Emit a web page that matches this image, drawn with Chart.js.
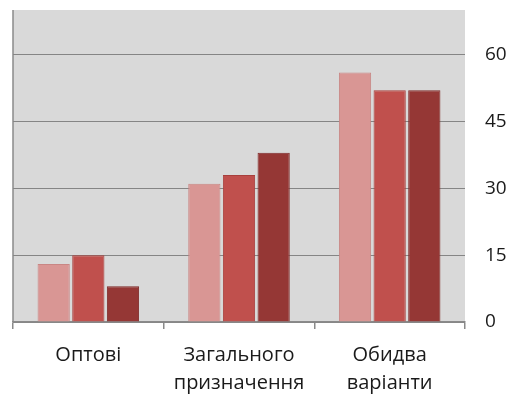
<!DOCTYPE html>
<html>
<head>
<meta charset="utf-8">
<script src="https://cdn.jsdelivr.net/npm/chart.js@4"></script>
<style>
  html, body { margin: 0; padding: 0; background: #ffffff; }
  #wrap { width: 509px; height: 394px; }
</style>
</head>
<body>
<div id="wrap"><canvas id="chart"></canvas></div>
<script>
// Categories (two-line labels) and the three series per category.
var categories = [['Оптові'], ['Загального', 'призначення'], ['Обидва', 'варіанти']];
var series_a = [13, 31, 56];
var series_b = [15, 33, 52];
var series_c = [8, 38, 52];
var y_ticks = [0, 15, 30, 45, 60];

// Fill the plot area grey and draw the left edge line.
const plotBackground = {
    id: 'plotBackground',
    beforeDraw(chart) {
        const {ctx, chartArea: {left, top, right, bottom}} = chart;
        ctx.save();
        ctx.fillStyle = '#d9d9d9';
        ctx.fillRect(left, top, right - left, bottom - top);
        ctx.strokeStyle = '#8a8a8a';
        ctx.lineWidth = 1.5;
        ctx.beginPath();
        ctx.moveTo(left, top);
        ctx.lineTo(left, bottom);
        ctx.stroke();
        ctx.restore();
    }
};

function bar_set(values, fill, edge) {
    return {
        data: values,
        backgroundColor: fill,
        borderColor: edge,
        borderWidth: 1,
        categoryPercentage: 0.69,
        barPercentage: 0.93
    };
}

new Chart(document.getElementById('chart'), {
    type: 'bar',
    data: {
        labels: categories,
        datasets: [
            bar_set(series_a, '#d99694', '#c98684'),
            bar_set(series_b, '#c0504d', '#a8403d'),
            bar_set(series_c, '#953735', '#7e2a28')
        ]
    },
    options: {
        responsive: true,
        maintainAspectRatio: false,
        animation: false,
        layout: {
            padding: {left: 13, top: 10, right: 0, bottom: 0}
        },
        plugins: {
            legend: {display: false},
            tooltip: {enabled: false}
        },
        scales: {
            x: {
                grid: {
                    offset: true,
                    drawOnChartArea: false,
                    color: '#8a8a8a',
                    tickLength: 7,
                    lineWidth: 1.5
                },
                border: {color: '#8a8a8a', width: 1.5},
                afterFit(axis) {
                    axis.height = 72;
                    axis.paddingLeft = 0;
                    axis.paddingRight = 0;
                },
                ticks: {
                    color: '#1a1a1a',
                    padding: 12,
                    maxRotation: 0,
                    font: {family: 'Open Sans', size: 20, lineHeight: 1.4}
                }
            },
            y: {
                position: 'right',
                min: 0,
                max: 70,
                border: {display: false},
                grid: {
                    color: '#858585',
                    lineWidth: 1,
                    drawTicks: false
                },
                afterBuildTicks(axis) {
                    axis.ticks = y_ticks.map(v => ({value: v}));
                },
                afterFit(axis) {
                    axis.width = 44;
                    axis.paddingTop = 0;
                    axis.paddingBottom = 0;
                },
                ticks: {
                    color: '#1a1a1a',
                    padding: 20,
                    font: {family: 'Open Sans', size: 19}
                }
            }
        }
    },
    plugins: [plotBackground]
});
</script>
</body>
</html>
